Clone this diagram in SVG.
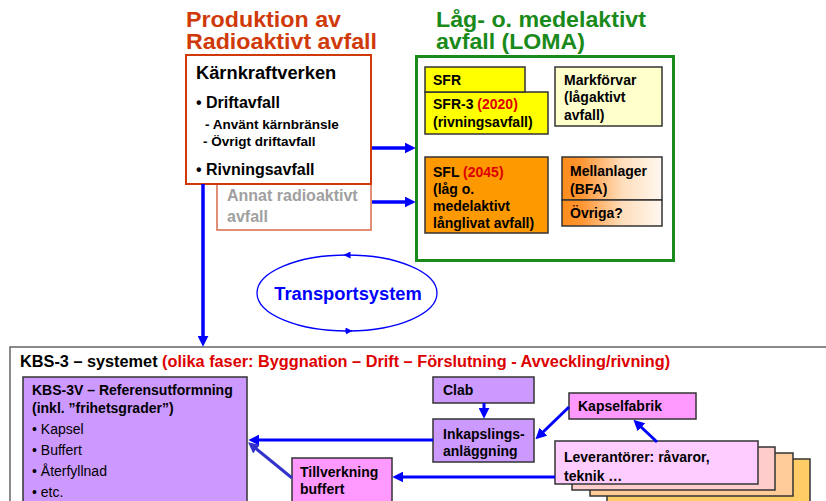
<svg xmlns="http://www.w3.org/2000/svg" width="826" height="501" viewBox="0 0 826 501">
<style>
text{font-family:"Liberation Sans",Arial,sans-serif;font-weight:bold;fill:#000}
.title{font-size:21.5px}
.orange{fill:#D03A0A}
.green{fill:#1A8A1A}
.red{fill:#DD0000}
.b{stroke:#333;stroke-width:1.5}
.t14{font-size:14px}
.n{font-weight:normal}
.conn{fill:none;stroke:#0000FF;stroke-width:3.5}
</style>
<defs>
<marker id="arr" viewBox="0 0 10 10" refX="3" refY="5" markerWidth="11" markerHeight="11" markerUnits="userSpaceOnUse" orient="auto"><path d="M0,0 L10,5 L0,10 z" fill="#0000FF"/></marker>
<marker id="arrP" viewBox="0 0 10 10" refX="3" refY="5" markerWidth="11" markerHeight="11" markerUnits="userSpaceOnUse" orient="auto"><path d="M0,0 L10,5 L0,10 z" fill="#3333CC"/></marker>
<marker id="sm" viewBox="0 0 10 10" refX="5" refY="5" markerWidth="7" markerHeight="7" markerUnits="userSpaceOnUse" orient="auto"><path d="M0,0 L10,5 L0,10 z" fill="#0000FF"/></marker>
<linearGradient id="og" x1="0" y1="0" x2="1" y2="0"><stop offset="0" stop-color="#FF8C1A"/><stop offset="0.2" stop-color="#FF9633"/><stop offset="0.6" stop-color="#FFDDBB"/><stop offset="1" stop-color="#FFF8F0"/></linearGradient>
</defs>
<rect width="826" height="501" fill="#fff"/>

<g id="prod">
<text class="title orange" x="186" y="27" textLength="155" lengthAdjust="spacingAndGlyphs">Produktion av</text>
<text class="title orange" x="186" y="49" textLength="191" lengthAdjust="spacingAndGlyphs">Radioaktivt avfall</text>
</g>
<g id="annat">
<rect x="217" y="184" width="154" height="46" fill="#fff" stroke="#D86A4A" stroke-width="1.5"/>
<text x="227" y="201" style="font-size:16px;fill:#A0A0A0">Annat radioaktivt</text>
<text x="227" y="222" style="font-size:16px;fill:#A0A0A0">avfall</text>
</g>
<g id="karn">
<rect x="186" y="55" width="185" height="129" fill="#fff" stroke="#D03A0A" stroke-width="2"/>
<text x="196" y="79" style="font-size:18.3px">Kärnkraftverken</text>
<text x="196" y="108" style="font-size:16px">• Driftavfall</text>
<text x="205" y="129" style="font-size:13.5px">- Använt kärnbränsle</text>
<text x="203" y="146" style="font-size:13.5px">- Övrigt driftavfall</text>
<text x="196" y="175" style="font-size:16px">• Rivningsavfall</text>
</g>

<g id="loma">
<text class="title green" x="436" y="27" textLength="210" lengthAdjust="spacingAndGlyphs">Låg- o. medelaktivt</text>
<text class="title green" x="436" y="49" textLength="149" lengthAdjust="spacingAndGlyphs">avfall (LOMA)</text>
<rect x="416.5" y="56.5" width="257" height="204" fill="#fff" stroke="#1A8A1A" stroke-width="3"/>
</g>
<g id="sfr3">
<rect class="b" x="425" y="92" width="123" height="42" fill="#FFFF00"/>
<text class="t14" x="433" y="109">SFR-3 <tspan class="red">(2020)</tspan></text>
<text class="t14" x="433" y="127">(rivningsavfall)</text>
</g>
<g id="sfr">
<rect class="b" x="425" y="67" width="100" height="25" fill="#FFFF00"/>
<text class="t14" x="433" y="85">SFR</text>
</g>
<g id="markforvar">
<rect class="b" x="555" y="67" width="107" height="59" fill="#FFFFCC"/>
<text class="t14" x="564" y="85">Markförvar</text>
<text class="t14" x="564" y="102">(lågaktivt</text>
<text class="t14" x="564" y="120">avfall)</text>
</g>
<g id="sfl">
<rect class="b" x="425" y="157" width="123" height="76" fill="#FF9900"/>
<text class="t14" x="433" y="177">SFL <tspan class="red">(2045)</tspan></text>
<text class="t14" x="433" y="194">(låg o.</text>
<text class="t14" x="433" y="211">medelaktivt</text>
<text class="t14" x="433" y="228">långlivat avfall)</text>
</g>
<g id="mellanlager">
<rect class="b" x="562" y="157" width="100" height="43" fill="url(#og)"/>
<text class="t14" x="570" y="176">Mellanlager</text>
<text class="t14" x="570" y="194">(BFA)</text>
</g>
<g id="ovriga">
<rect class="b" x="562" y="200" width="100" height="26" fill="url(#og)"/>
<text class="t14" x="570" y="218">Övriga?</text>
</g>

<g id="transport">
<text x="348" y="300" text-anchor="middle" style="font-size:18.3px;fill:#0000FF">Transportsystem</text>
</g>

<g id="kbs3">
<rect x="10" y="347" width="830" height="170" fill="#fff" stroke="#666" stroke-width="1.5"/>
<text x="20" y="367" style="font-size:16.3px">KBS-3 – systemet <tspan class="red">(olika faser: Byggnation – Drift – Förslutning - Avveckling/rivning)</tspan></text>
</g>
<g id="kbs3v">
<rect class="b" x="23" y="377" width="224" height="130" fill="#CC99FF"/>
<text class="t14" x="32" y="395">KBS-3V – Referensutformning</text>
<text class="t14" x="32" y="413">(inkl. ”frihetsgrader”)</text>
<text class="t14 n" x="32" y="434">• Kapsel</text>
<text class="t14 n" x="32" y="455">• Buffert</text>
<text class="t14 n" x="32" y="476">• Återfyllnad</text>
<text class="t14 n" x="32" y="497">• etc.</text>
</g>
<g id="clab">
<rect class="b" x="433" y="377" width="101" height="26" fill="#CC99FF"/>
<text class="t14" x="443" y="395">Clab</text>
</g>
<g id="inkapsling">
<rect class="b" x="433" y="419" width="101" height="43" fill="#CC99FF"/>
<text class="t14" x="443" y="439">Inkapslings-</text>
<text class="t14" x="443" y="456">anläggning</text>
</g>
<g id="tillverkning">
<rect class="b" x="292" y="458" width="100" height="46" fill="#FF99FF"/>
<text class="t14" x="300" y="477">Tillverkning</text>
<text class="t14" x="300" y="494">buffert</text>
</g>
<g id="kapselfabrik">
<rect class="b" x="569" y="393" width="127" height="26" fill="#FF99FF"/>
<text class="t14" x="578" y="411">Kapselfabrik</text>
</g>
<g id="leverantorer">
<rect class="b" x="607" y="459" width="203" height="50" fill="#FFCC66"/>
<rect class="b" x="590" y="453" width="203" height="43" fill="#FFCC99"/>
<rect class="b" x="572" y="447" width="203" height="43" fill="#FFCCCC"/>
<rect class="b" x="555" y="441" width="203" height="43" fill="#FFCCFF"/>
<text class="t14" x="564" y="462">Leverantörer: råvaror,</text>
<text class="t14" x="564" y="481">teknik …</text>
</g>

<g id="connectors">
<line class="conn" x1="372" y1="148" x2="408" y2="148" marker-end="url(#arr)"/>
<line class="conn" x1="372" y1="202" x2="408" y2="202" marker-end="url(#arr)"/>
<line class="conn" x1="203" y1="184" x2="203" y2="339" marker-end="url(#arr)"/>
<path d="M437,293 A90,38 0 0 0 347,255" fill="none" stroke="#0000FF" stroke-width="1.3" marker-end="url(#sm)"/>
<path d="M347,255 A90,38 0 0 0 257,293 A90,38 0 0 0 349,331" fill="none" stroke="#0000FF" stroke-width="1.3" marker-end="url(#sm)"/>
<path d="M349,331 A90,38 0 0 0 437,293" fill="none" stroke="#0000FF" stroke-width="1.3"/>
<line class="conn" x1="484" y1="403" x2="484" y2="411" style="stroke-width:3" marker-end="url(#arr)"/>
<line class="conn" x1="433" y1="440" x2="256" y2="440" style="stroke-width:3" marker-end="url(#arr)"/>
<line x1="292" y1="478" x2="254" y2="447" stroke="#3333CC" stroke-width="3" marker-end="url(#arrP)"/>
<line class="conn" x1="555" y1="477" x2="400" y2="477" style="stroke-width:3" marker-end="url(#arr)"/>
<line class="conn" x1="569" y1="407" x2="541" y2="434" style="stroke-width:3" marker-end="url(#arr)"/>
<line class="conn" x1="657" y1="442" x2="639" y2="425" style="stroke-width:3" marker-end="url(#arr)"/>
</g>
</svg>
